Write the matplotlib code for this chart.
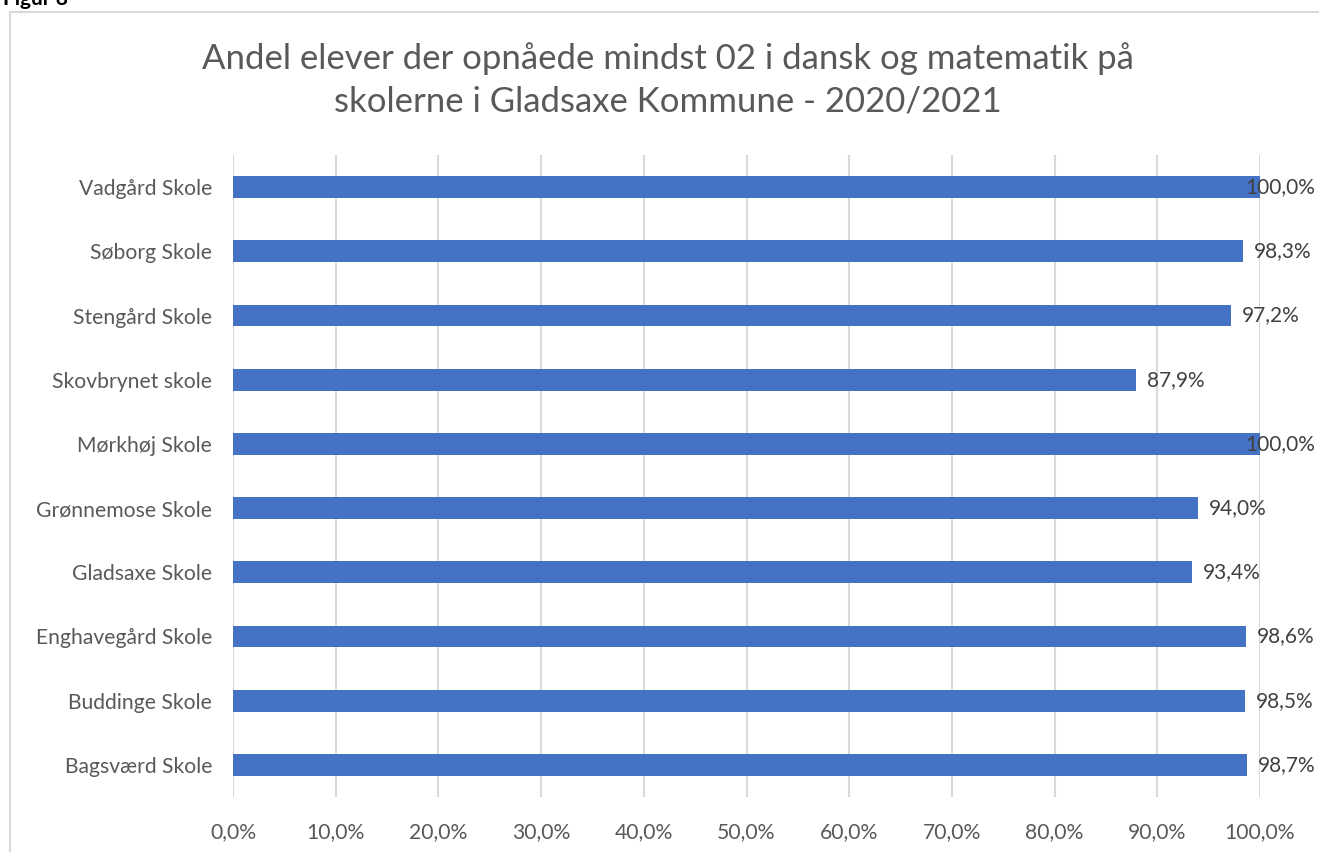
import matplotlib.pyplot as plt
from matplotlib.patches import Rectangle
from matplotlib.ticker import FuncFormatter

schools = ['Bagsværd Skole', 'Buddinge Skole', 'Enghavegård Skole', 'Gladsaxe Skole',
           'Grønnemose Skole', 'Mørkhøj Skole', 'Skovbrynet skole', 'Stengård Skole',
           'Søborg Skole', 'Vadgård Skole']
values = [98.7, 98.5, 98.6, 93.4, 94.0, 100.0, 87.9, 97.2, 98.3, 100.0]

plt.rcParams['font.family'] = ['Lato', 'DejaVu Sans']
grey = '#595959'

fig = plt.figure(figsize=(13.19, 8.52), dpi=100)
ax = fig.add_axes([233 / 1319, 1 - 797 / 852, (1260 - 233) / 1319, (797 - 155) / 852])

# outer chart frame, cut by the image edges
fig.patches.append(Rectangle((10 / 1319, -0.1), 1.2, 1 - 12 / 852 + 0.1,
                             transform=fig.transFigure, fill=False,
                             edgecolor='#d9d9d9', linewidth=1.5))
fig.text(3 / 1319, 1 - 5 / 852, 'Figur 8', fontsize=15, fontweight='bold',
         color='black', va='baseline', ha='left')

ypos = range(len(schools))
ax.barh(ypos, values, height=0.34, color='#4472C4', zorder=3)
for y, v in zip(ypos, values):
    lbl = f'{v:.1f}%'.replace('.', ',')
    if v > 99.5:
        # no room right of the bar: keep the label inside the chart frame
        ax.text(105.4, y, lbl, va='center', ha='right', fontsize=15,
                color='#404040', zorder=4)
    else:
        ax.text(v + 1.07, y, lbl, va='center', ha='left', fontsize=15,
                color='#404040', zorder=4)

ax.set_xlim(0, 100)
ax.set_ylim(-0.5, len(schools) - 0.5)
ax.set_xticks(range(0, 101, 10))
ax.xaxis.set_major_formatter(FuncFormatter(lambda x, p: f'{x:.1f}%'.replace('.', ',')))
ax.set_yticks(list(ypos))
ax.set_yticklabels(schools)
ax.grid(axis='x', color='#d9d9d9', linewidth=1.5, zorder=0)
for s in ax.spines.values():
    s.set_visible(False)
ax.tick_params(axis='both', length=0, labelsize=15.2, colors=grey)
ax.tick_params(axis='x', pad=18)
ax.tick_params(axis='y', pad=15)

fig.text(668 / 1319, 1 - 80 / 852,
         'Andel elever der opnåede mindst 02 i dansk og matematik på\nskolerne i Gladsaxe Kommune - 2020/2021',
         ha='center', va='center', fontsize=25, color=grey, linespacing=1.4)

fig.savefig('out.png', dpi=100)
